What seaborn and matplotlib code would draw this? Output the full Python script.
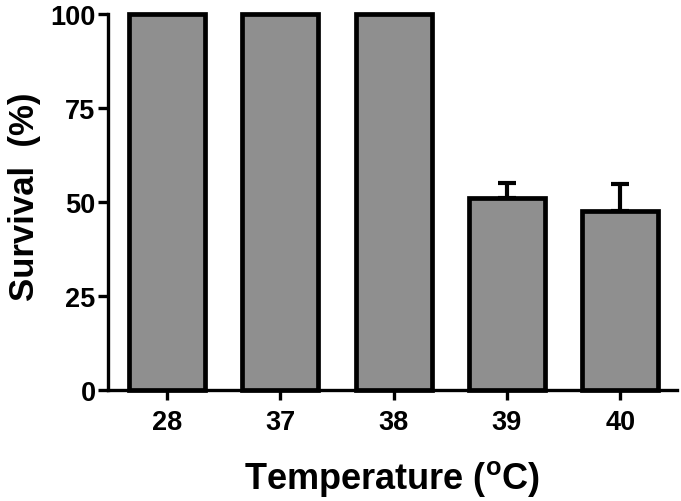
import matplotlib
matplotlib.use('Agg')
import matplotlib.pyplot as plt
import seaborn as sns
import pandas as pd
import numpy as np

# Data
temperatures = ['28', '37', '38', '39', '40']
survival = [100, 100, 100, 51.0, 47.6]
survival_err_upper = [0, 0, 0, 4.0, 7.2]
y_ticks = [0, 25, 50, 75, 100]

sns.set_style('ticks')
plt.rcParams['font.family'] = ['Liberation Sans', 'DejaVu Sans']
plt.rcParams['font.weight'] = 'bold'
plt.rcParams['text.color'] = 'black'
plt.rcParams['axes.labelcolor'] = 'black'
plt.rcParams['mathtext.fontset'] = 'custom'
plt.rcParams['mathtext.rm'] = 'Liberation Sans:bold'
plt.rcParams['mathtext.bf'] = 'Liberation Sans:bold'
plt.rcParams['mathtext.it'] = 'Liberation Sans:bold'

fig = plt.figure(figsize=(6.81, 5.02), dpi=100)
ax = fig.add_axes([0.1586, 0.2211, 0.8355, 0.7490])

df = pd.DataFrame({'Temperature': temperatures, 'Survival': survival})
sns.barplot(data=df, x='Temperature', y='Survival', color='#8f8f8f', saturation=1,
            width=0.67, edgecolor='black', linewidth=3.4, errorbar=None, ax=ax, zorder=3)
for p in ax.patches:
    p.set_clip_on(False)

idx = [i for i, e in enumerate(survival_err_upper) if e > 0]
ax.errorbar([i for i in idx], [survival[i] for i in idx],
            yerr=[[0 for _ in idx], [survival_err_upper[i] for i in idx]],
            fmt='none', ecolor='black', elinewidth=3.0, capsize=6.5, capthick=3.0, zorder=2)

ax.set_ylim(0, 100)
ax.set_xlim(-0.52, 4.5)
ax.set_yticks(y_ticks)
ax.set_yticklabels([str(v) for v in y_ticks])

sns.despine(ax=ax)
for s in ['left', 'bottom']:
    ax.spines[s].set_linewidth(2.4)
    ax.spines[s].set_color('black')

ax.tick_params(axis='y', length=7, width=2.4, pad=2, labelsize=19.5, colors='black')
ax.tick_params(axis='x', length=7, width=2.4, pad=7, labelsize=19.5, colors='black')
for lab in ax.get_xticklabels() + ax.get_yticklabels():
    lab.set_fontweight('bold')

ax.set_xlabel(r'Temperature ($^{\mathbf{o}}$C)', fontsize=26, fontweight='bold', color='black')
ax.set_ylabel('Survival  (%)', fontsize=25, fontweight='bold', color='black')
ax.xaxis.set_label_coords(0.5, -0.18)
ax.yaxis.set_label_coords(-0.118, 0.516)

fig.savefig('out.png', dpi=100)
